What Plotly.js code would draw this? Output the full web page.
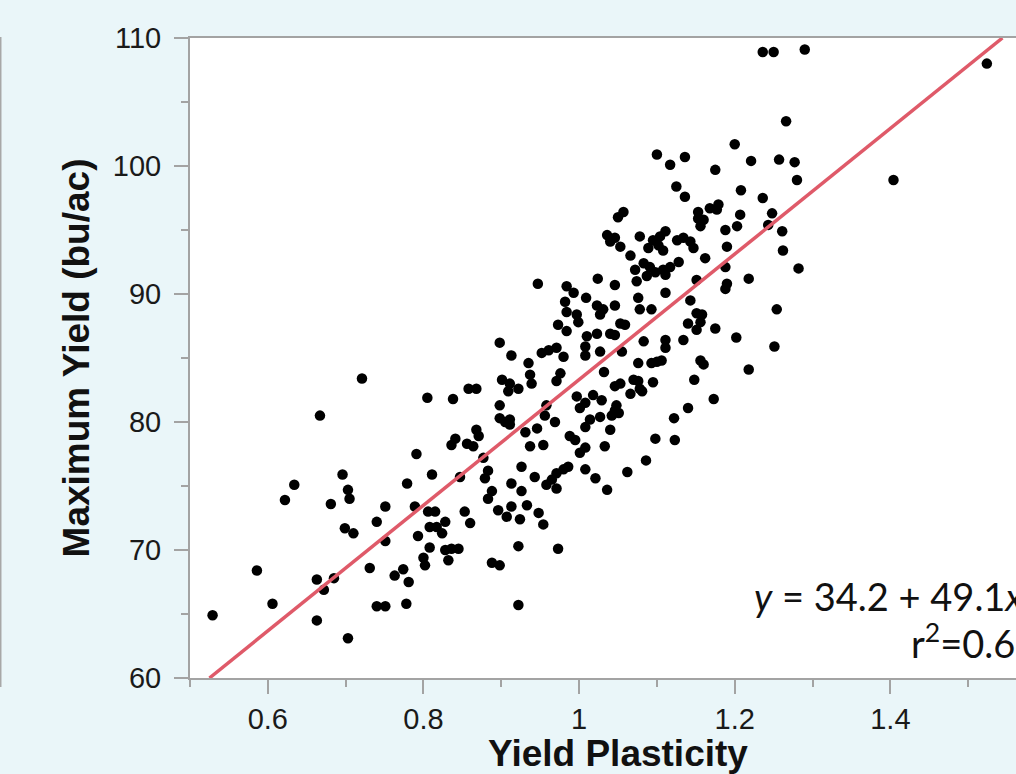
<!DOCTYPE html>
<html>
<head>
<meta charset="utf-8">
<script src="https://cdn.plot.ly/plotly-3.0.1.min.js"></script>
<style>
  html, body { margin: 0; padding: 0; overflow: hidden; background: #eaf6f9; }
  #chart { width: 1100px; height: 774px; }
</style>
</head>
<body>
<div id="chart"></div>
<script>
// Yield plasticity (x) and maximum yield, bu/ac (y) for each observation
const plasticity = [
  0.721,0.667,0.805,0.791,0.811,0.779,0.789,0.751,0.740,0.751,0.699,0.710,0.696,0.703,0.705,0.681,0.634,0.622,0.586,0.606,
  0.529,0.663,0.672,0.685,0.663,0.703,0.731,0.763,0.774,0.781,0.740,0.751,0.778,0.793,0.806,0.815,0.808,0.817,0.808,0.800,
  0.802,
  0.898,0.913,0.952,0.961,0.971,0.980,0.935,0.937,0.939,0.976,0.971,0.984,1.010,1.008,1.008,0.838,0.858,0.868,0.901,0.911,
  0.909,0.922,0.898,0.898,0.905,0.911,0.911,0.931,0.946,0.937,0.954,0.958,0.969,0.997,1.001,1.008,1.018,1.008,1.014,0.988,
  0.995,1.001,1.008,1.008,1.021,0.841,0.836,0.868,0.871,0.864,0.856,0.877,0.847,0.853,0.860,0.888,0.883,0.883,0.879,0.896,
  0.907,0.913,0.933,0.913,0.926,0.924,0.948,0.954,0.922,0.973,0.888,0.898,0.922,0.926,0.943,0.958,0.965,0.971,0.980,0.986,
  0.971,0.824,0.828,0.828,0.836,0.845,0.832,0.956,
  0.947,1.024,0.984,0.993,0.982,1.009,1.023,0.984,0.997,0.999,0.973,1.023,1.027,
  1.200,1.100,1.136,1.117,1.221,1.257,1.277,1.175,1.280,1.125,1.136,1.208,1.236,1.050,1.057,1.153,1.168,1.179,1.177,1.153,
  1.160,1.156,1.207,1.248,1.243,1.188,1.203,1.261,1.036,1.046,1.040,1.078,1.053,1.066,1.095,1.104,1.111,1.089,1.102,1.108,
  1.126,1.134,1.143,1.147,1.128,1.162,1.190,1.262,1.072,1.083,1.091,1.098,1.108,1.117,1.087,1.111,1.046,1.074,1.188,1.190,
  1.188,1.151,1.218,1.282,1.111,1.076,1.046,1.031,1.027,1.078,1.093,1.143,1.151,1.158,1.156,1.140,1.254,1.053,1.059,1.175,
  1.151,1.202,1.251,1.218,1.173,1.134,1.111,1.111,1.083,1.055,1.040,1.046,1.076,1.093,1.100,1.106,1.156,1.160,1.032,1.148,
  1.046,1.053,1.070,1.076,1.078,1.081,1.066,1.095,1.029,1.048,1.051,1.042,1.046,1.027,1.040,1.033,1.140,1.122,1.098,1.123,
  1.086,1.062,1.036,
  1.236,1.250,1.290,1.524,1.404,1.266
];
const maxYield = [
  83.4,80.5,81.9,77.5,75.9,75.2,73.4,73.4,72.2,70.7,71.7,71.3,75.9,74.7,74.0,73.6,75.1,73.9,68.4,65.8,
  64.9,67.7,66.9,67.8,64.5,63.1,68.6,68.0,68.5,67.5,65.6,65.6,65.8,71.1,73.0,73.0,71.8,71.8,70.2,69.4,
  68.8,
  86.2,85.2,85.4,85.6,85.8,85.1,84.6,83.7,83.0,83.8,83.2,87.1,86.7,85.9,85.2,81.8,82.6,82.6,83.3,83.0,
  82.4,82.6,81.3,80.3,80.0,80.2,79.8,79.2,79.5,78.1,78.2,81.3,80.0,82.0,81.1,81.5,82.1,79.6,80.2,78.9,
  78.6,77.6,78.0,76.3,75.6,78.7,78.2,79.4,78.9,78.1,78.3,77.2,75.7,73.0,72.1,74.6,74.0,76.2,75.6,73.1,
  72.6,73.4,73.5,75.2,74.6,72.4,72.9,72.0,70.3,70.1,69.0,68.8,65.7,76.5,75.7,75.1,75.5,76.0,76.3,76.5,
  74.8,71.3,72.2,70.0,70.1,70.1,69.2,80.5,
  90.8,91.2,90.6,90.1,89.4,89.7,89.1,88.6,88.4,87.8,87.6,86.9,85.5,
  101.7,100.9,100.7,100.1,100.4,100.5,100.3,99.7,98.9,98.4,97.6,98.1,97.5,96.0,96.4,96.4,96.7,97.0,96.6,95.9,
  95.8,95.3,96.2,96.3,95.4,95.0,95.3,94.9,94.6,94.4,94.1,94.5,93.7,93.0,94.2,94.5,94.9,93.6,93.8,93.4,
  94.2,94.4,94.1,93.6,92.5,92.8,93.7,93.4,91.9,92.4,92.1,91.7,91.9,92.1,91.4,91.5,90.7,91.0,92.1,90.8,
  90.4,91.1,91.2,92.0,90.1,89.7,89.1,88.8,88.4,88.8,88.8,89.5,88.5,88.4,87.8,87.7,88.8,87.7,87.6,87.3,
  87.2,86.6,85.9,84.1,81.8,86.4,86.4,85.8,86.3,85.5,86.9,86.8,84.6,84.6,84.7,84.8,84.8,84.5,83.9,83.3,
  82.8,83.0,83.3,83.2,82.6,82.4,82.2,83.1,81.7,81.3,80.7,80.5,80.9,80.4,79.4,78.1,81.1,80.3,78.7,78.6,
  77.0,76.1,74.7,
  108.9,108.9,109.1,108.0,98.9,103.5
];

// Fitted line end points (y = 34.2 + 49.1x)
const fitX = [0.525, 1.544];
const fitY = [60, 110];

// Axis ticks
const xTicks = [0.6, 0.8, 1.0, 1.2, 1.4];
const xTickText = ['0.6', '0.8', '1', '1.2', '1.4'];
const yTicks = [60, 70, 80, 90, 100, 110];
const yTickText = ['60', '70', '80', '90', '100', '110'];

const equationText = '<i>y</i> = 34.2 + 49.1<i>x</i>';
const r2Text = 'r<sup>2</sup>=0.67';

const axisGrey = '#a3a3a3';
const tickFont = { family: 'Liberation Sans, Arial, sans-serif', size: 29, color: '#1a1a1a' };
const titleFont = { family: 'Liberation Sans, Arial, sans-serif', size: 37, color: '#111111', weight: 'bold' };

const traces = [
  {
    x: plasticity, y: maxYield, type: 'scatter', mode: 'markers',
    marker: { color: '#000000', size: 10.5 },
    hoverinfo: 'x+y', cliponaxis: false, showlegend: false
  },
  {
    x: fitX, y: fitY, type: 'scatter', mode: 'lines',
    line: { color: '#df5a69', width: 3.5 },
    hoverinfo: 'skip', showlegend: false
  }
];

const layout = {
  width: 1100, height: 774,
  margin: { l: 190, r: 54, t: 38, b: 96 },
  paper_bgcolor: '#eaf6f9',
  plot_bgcolor: '#ffffff',
  showlegend: false,
  xaxis: {
    range: [0.5, 1.6],
    tickvals: xTicks, ticktext: xTickText,
    ticks: 'outside', ticklen: 14, tickwidth: 2, tickcolor: axisGrey,
    minor: { dtick: 0.1, tick0: 0.5, ticks: 'outside', ticklen: 7, tickwidth: 2, tickcolor: axisGrey },
    showline: true, linecolor: axisGrey, linewidth: 2, mirror: true,
    showgrid: false, zeroline: false,
    tickfont: tickFont,
    title: { text: 'Yield Plasticity', font: titleFont, standoff: 2 },
    automargin: true
  },
  yaxis: {
    range: [60, 110],
    tickvals: yTicks, ticktext: yTickText,
    ticks: 'outside', ticklen: 14, tickwidth: 2, tickcolor: axisGrey,
    minor: { dtick: 5, tick0: 60, ticks: 'outside', ticklen: 7, tickwidth: 2, tickcolor: axisGrey },
    showline: true, linecolor: axisGrey, linewidth: 2, mirror: true,
    showgrid: false, zeroline: false,
    tickfont: tickFont,
    ticklabelstandoff: 7,
    title: { text: 'Maximum Yield (bu/ac)', font: titleFont, standoff: 12 },
    automargin: true
  },
  annotations: [
    {
      xref: 'paper', yref: 'paper', x: 0.6565, y: 0.128,
      xanchor: 'left', yanchor: 'middle', showarrow: false,
      text: equationText,
      font: { family: 'Lato, Open Sans, sans-serif', size: 38, color: '#111111' }
    },
    {
      xref: 'paper', yref: 'paper', x: 0.8400, y: 0.058,
      xanchor: 'left', yanchor: 'middle', showarrow: false,
      text: r2Text,
      font: { family: 'Lato, Open Sans, sans-serif', size: 38, color: '#111111' }
    }
  ],
  shapes: [
    {
      type: 'line', xref: 'paper', yref: 'paper',
      x0: -0.2214, x1: -0.2214, y0: -0.014, y1: 1.0016,
      line: { color: '#a8a8a8', width: 2 }
    }
  ]
};

Plotly.newPlot('chart', traces, layout, { displayModeBar: false, staticPlot: true });
</script>
</body>
</html>
